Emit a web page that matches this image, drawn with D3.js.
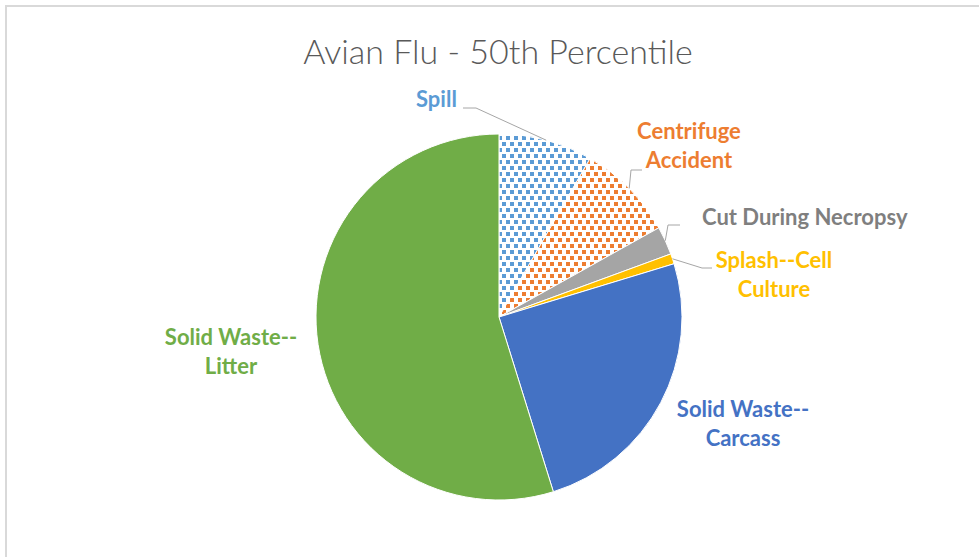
<!DOCTYPE html>
<html>
<head>
<meta charset="utf-8">
<script src="https://cdn.jsdelivr.net/npm/d3@7"></script>
<style>
  body { margin: 0; background: #fff; }
  text { font-family: Lato, "Open Sans", sans-serif; }
</style>
</head>
<body>
<div id="pie"></div>
<script>
// data (percent of total, clockwise from 12 o'clock)
const categories = ["Spill", "Centrifuge Accident", "Cut During Necropsy", "Splash--Cell Culture", "Solid Waste--Carcass", "Solid Waste--Litter"];
const values = [8.3, 8.6, 2.5, 0.9, 24.9, 54.8];
const labelLines = [["Spill"], ["Centrifuge", "Accident"], ["Cut During Necropsy"], ["Splash--Cell", "Culture"], ["Solid Waste--", "Carcass"], ["Solid Waste--", "Litter"]];
const chartTitle = "Avian Flu - 50th Percentile";

var width = 979, height = 557;
var cx = 499, cy = 317, radius = 183;

var colors = ["#5b9bd5", "#ed7d31", "#a5a5a5", "#ffc000", "#4472c4", "#70ad47"];
var textColors = ["#5b9bd5", "#ed7d31", "#7f7f7f", "#ffc000", "#4472c4", "#70ad47"];
var dotted = [true, true, false, false, false, false];

// label placement: x/y of first baseline, anchor, and leader elbow points
var labelPos = [
  {x: 416, y: 107, anchor: "start", leader: [[476, 108], [463, 108]]},
  {x: 689, y: 139, anchor: "middle", leader: [[631, 170], [642, 170]]},
  {x: 702, y: 225, anchor: "start", leader: [[668, 225], [680, 225]]},
  {x: 774, y: 268, anchor: "middle", leader: [[702, 268], [712, 268]]},
  {x: 743, y: 417, anchor: "middle", leader: null},
  {x: 231, y: 345, anchor: "middle", leader: null}
];

const svg = d3.select("#pie")
  .append("svg")
    .attr("width", width)
    .attr("height", height);

// dotted pattern fills (staggered square dots)
var defs = svg.append("defs");
colors.forEach((c, i) => {
  if (!dotted[i]) return;
  var p = defs.append("pattern")
    .attr("id", "dots" + i)
    .attr("patternUnits", "userSpaceOnUse")
    .attr("x", cx).attr("y", cy)
    .attr("width", 8)
    .attr("height", 12);
  p.append("rect").attr("width", 8).attr("height", 12).attr("fill", "#fff");
  p.append("rect").attr("x", 0).attr("y", 0).attr("width", 4).attr("height", 4).attr("fill", c);
  p.append("rect").attr("x", 4).attr("y", 6).attr("width", 4).attr("height", 4).attr("fill", c);
});

// chart frame
svg.append("rect")
  .attr("x", 6).attr("y", 6)
  .attr("width", width + 10).attr("height", height + 10)
  .attr("fill", "none")
  .attr("stroke", "#d9d9d9")
  .attr("stroke-width", 2);

svg.append("text")
  .attr("x", 498)
  .attr("y", 64)
  .attr("text-anchor", "middle")
  .attr("font-size", 34)
  .attr("font-weight", 300)
  .attr("fill", "#595959")
  .text(chartTitle);

var pie = d3.pie().sort(null).value(d => d);
var arcs = pie(values);
var arc = d3.arc().innerRadius(0).outerRadius(radius);
var edge = d3.arc().innerRadius(radius).outerRadius(radius);

var g = svg.append("g").attr("transform", `translate(${cx},${cy})`);

g.selectAll("path")
  .data(arcs)
  .enter()
  .append("path")
    .attr("d", arc)
    .attr("fill", (d, i) => dotted[i] ? "url(#dots" + i + ")" : colors[i])
    .attr("stroke", "#fff")
    .attr("stroke-width", 1);

// leader lines
arcs.forEach((d, i) => {
  var lp = labelPos[i];
  if (!lp.leader) return;
  var e = edge.centroid(d);
  var pts = [[cx + e[0], cy + e[1]]].concat(lp.leader);
  svg.append("path")
    .attr("d", d3.line()(pts))
    .attr("fill", "none")
    .attr("stroke", "#a6a6a6")
    .attr("stroke-width", 1);
});

// data labels
labelLines.forEach((lines, i) => {
  var lp = labelPos[i];
  var t = svg.append("text")
    .attr("x", lp.x)
    .attr("y", lp.y)
    .attr("text-anchor", lp.anchor)
    .attr("font-size", 22)
    .attr("font-weight", "bold")
    .attr("fill", textColors[i]);
  lines.forEach((s, j) => {
    t.append("tspan")
      .attr("x", lp.x)
      .attr("dy", j === 0 ? 0 : 29)
      .text(s);
  });
});
</script>
</body>
</html>
